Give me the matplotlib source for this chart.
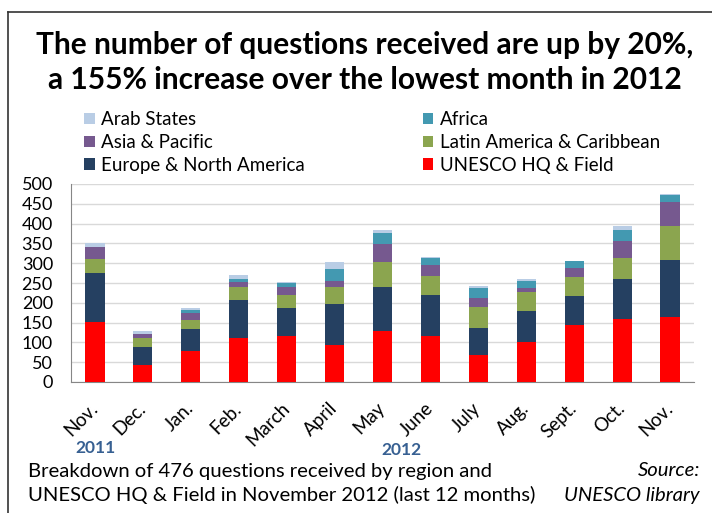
import numpy as np
import matplotlib.pyplot as plt
from matplotlib.lines import Line2D

plt.rcParams['font.family'] = ['Lato', 'DejaVu Sans']

months = ['Nov.', 'Dec.', 'Jan.', 'Feb.', 'March', 'April', 'May', 'June',
          'July', 'Aug.', 'Sept.', 'Oct.', 'Nov.']

# questions per region
unesco_hq = [152, 43, 79, 112, 116, 94, 128, 116, 67, 101, 144, 158, 164]
europe_na = [124, 45, 54, 95, 71, 102, 111, 103, 70, 78, 72, 102, 143]
latin_am = [35, 23, 24, 32, 32, 43, 63, 48, 52, 48, 49, 54, 88]
asia_pac = [29, 10, 18, 14, 21, 17, 47, 28, 23, 10, 24, 42, 60]
africa = [0, 0, 7, 7, 10, 29, 27, 18, 25, 17, 16, 29, 17]
arab_states = [12, 7, 5, 9, 3, 17, 7, 2, 5, 7, 1, 8, 4]

series = [('UNESCO HQ & Field', unesco_hq, '#FF0000'),
          ('Europe & North America', europe_na, '#254061'),
          ('Latin America & Caribbean', latin_am, '#8BA54F'),
          ('Asia & Pacific', asia_pac, '#76598F'),
          ('Africa', africa, '#4399B1'),
          ('Arab States', arab_states, '#B9CDE5')]

fig = plt.figure(figsize=(7.12, 5.13), dpi=100)
ax = fig.add_axes([71/712, 1-382/513, (694-71)/712, (382-184)/513])

x = np.arange(len(months))
bottom = np.zeros(len(months))
bars = {}
for name, vals, col in series:
    bars[name] = ax.bar(x, vals, 0.4, bottom=bottom, color=col, label=name, zorder=3)
    bottom += np.array(vals)

ax.set_xlim(-0.5, len(months) - 0.5)
ax.set_ylim(0, 500)
ax.set_yticks(range(0, 501, 50))
ax.yaxis.grid(True, color='#D9D9D9', linewidth=1)
ax.tick_params(axis='y', length=0, pad=13, labelsize=13)
ax.set_xticks(x)
ax.set_xticklabels(months, rotation=45, ha='right', va='center', rotation_mode='anchor', fontsize=13.5)
ax.tick_params(axis='x', length=0, pad=17)
for s in ['top', 'right']:
    ax.spines[s].set_visible(False)
ax.spines['left'].set_color('#868686')
ax.spines['bottom'].set_color('#868686')

# legend, two columns
order = ['Arab States', 'Asia & Pacific', 'Europe & North America',
         'Africa', 'Latin America & Caribbean', 'UNESCO HQ & Field']
ax.legend([bars[n] for n in order], order, ncol=2, loc='upper left',
          bbox_to_anchor=(75/712, 1-102/513), bbox_transform=fig.transFigure,
          frameon=False, fontsize=13.5, handlelength=0.55, handleheight=0.55,
          handletextpad=0.35, columnspacing=6.3, labelspacing=0.3, borderpad=0)

fig.text(365/712, 1-45/513, 'The number of questions received are up by 20%,', ha='center', va='center',
         fontsize=21.5, fontweight='bold')
fig.text(365/712, 1-80/513, 'a 155% increase over the lowest month in 2012', ha='center', va='center',
         fontsize=21.5, fontweight='bold')

fig.text(95/712, 1-448/513, '2011', ha='center', va='center', fontsize=12.5, fontweight='bold', color='#376092')
fig.text(401/712, 1-450/513, '2012', ha='center', va='center', fontsize=12.5, fontweight='bold', color='#376092')

fig.text(28/712, 1-471/513, 'Breakdown of 476 questions received by region and', ha='left', va='center', fontsize=14.6)
fig.text(28/712, 1-495/513, 'UNESCO HQ & Field in November 2012 (last 12 months)', ha='left', va='center', fontsize=14.6)
fig.text(700/712, 1-471/513, 'Source:', ha='right', va='center', fontsize=14.6, style='italic')
fig.text(700/712, 1-495/513, 'UNESCO library', ha='right', va='center', fontsize=14.6, style='italic')

# frame
fig.add_artist(Line2D([8/712, 8/712], [0, 1-12/513], color='#333333', linewidth=1.2, transform=fig.transFigure))
fig.add_artist(Line2D([8/712, 1], [1-12/513, 1-12/513], color='#333333', linewidth=1.2, transform=fig.transFigure))

plt.savefig('out.png', dpi=100)
